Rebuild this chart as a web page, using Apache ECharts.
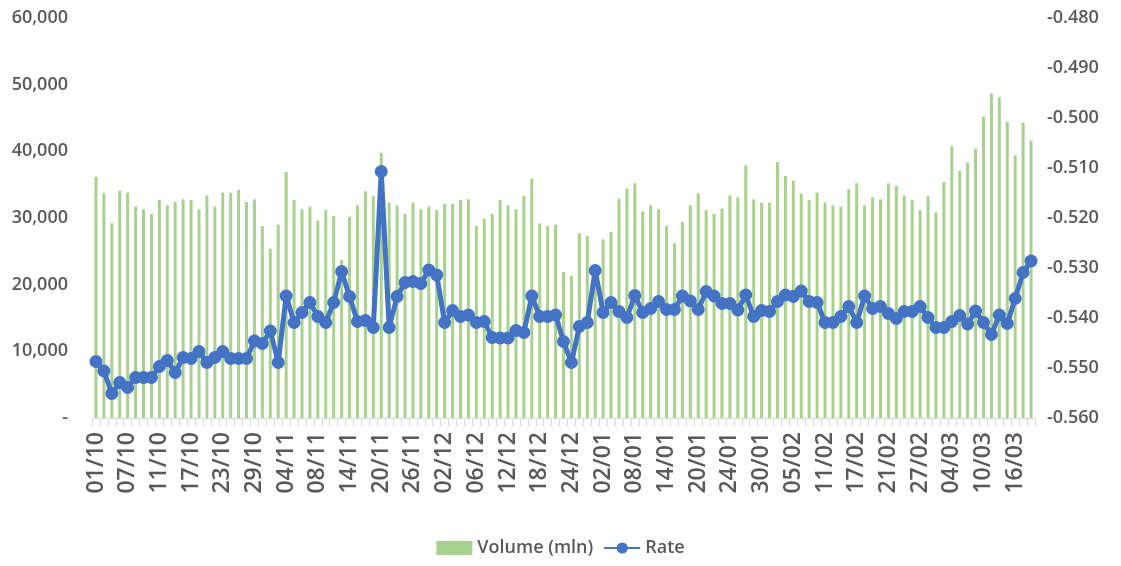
<!DOCTYPE html>
<html>
<head>
<meta charset="utf-8">
<script src="https://cdn.jsdelivr.net/npm/echarts@6/dist/echarts.min.js"></script>
<style>
  html, body { margin: 0; padding: 0; background: #fff; }
  #main { width: 1121px; height: 566px; }
</style>
</head>
<body>
<div id="main"></div>
<script>
// trading days 01/10 - 18/03
var days = [
  '01/10','02/10','03/10','04/10','07/10','08/10','09/10','10/10','11/10','14/10','15/10','16/10','17/10','18/10','21/10','22/10','23/10','24/10','25/10','28/10','29/10','30/10','31/10',
  '01/11','04/11','05/11','06/11','07/11','08/11','11/11','12/11','13/11','14/11','15/11','18/11','19/11','20/11','21/11','22/11','25/11','26/11','27/11','28/11','29/11',
  '02/12','03/12','04/12','05/12','06/12','09/12','10/12','11/12','12/12','13/12','16/12','17/12','18/12','19/12','20/12','23/12','24/12','27/12','30/12','31/12',
  '02/01','03/01','06/01','07/01','08/01','09/01','10/01','13/01','14/01','15/01','16/01','17/01','20/01','21/01','22/01','23/01','24/01','27/01','28/01','29/01','30/01','31/01',
  '03/02','04/02','05/02','06/02','07/02','10/02','11/02','12/02','13/02','14/02','17/02','18/02','19/02','20/02','21/02','24/02','25/02','26/02','27/02','28/02',
  '02/03','03/03','04/03','05/03','06/03','09/03','10/03','11/03','12/03','13/03','16/03','17/03','18/03'
];

// volume, mln
var volume = [
  36200,33700,29200,34100,33800,31700,31300,30600,32700,31900,32400,32800,32700,31300,33400,31700,33800,33800,34200,32400,
  32800,28800,25400,29000,36900,32700,31300,31700,29600,31200,30300,23700,30200,31900,34000,33300,39800,32300,31900,30600,
  32300,31300,31700,31200,32100,32100,32700,32800,28800,29900,30600,32700,31900,31300,33300,35900,29200,28800,29000,21900,
  21300,27700,27300,21500,26800,27900,32900,34400,35200,31000,31900,31300,28800,26200,29400,31900,33700,31200,30600,31400,
  33400,33100,37900,32800,32300,32300,38400,36300,35600,33700,32700,33800,32300,31900,31700,34300,35200,31900,33100,32800,
  35200,34800,33400,32700,31200,33300,30800,35400,40800,37100,38300,40400,45200,48700,48100,44400,39400,44300,41600
];

// rate
var rate = [
  -0.5487,-0.5506,-0.5551,-0.5529,-0.5539,-0.5519,-0.5519,-0.5519,-0.5497,-0.5485,-0.5509,-0.5479,-0.5481,-0.5467,-0.5489,-0.5479,-0.5467,-0.5481,-0.5481,-0.5481,
  -0.5446,-0.5451,-0.5426,-0.5489,-0.5356,-0.5409,-0.5389,-0.5369,-0.5397,-0.5409,-0.5369,-0.5307,-0.5357,-0.5407,-0.5405,-0.5419,-0.5107,-0.5419,-0.5357,-0.5329,
  -0.5327,-0.5331,-0.5304,-0.5314,-0.5409,-0.5385,-0.5397,-0.5394,-0.5409,-0.5407,-0.5439,-0.5440,-0.5440,-0.5425,-0.5429,-0.5356,-0.5397,-0.5397,-0.5394,-0.5447,
  -0.5489,-0.5417,-0.5409,-0.5305,-0.5389,-0.5369,-0.5387,-0.5399,-0.5355,-0.5389,-0.5381,-0.5367,-0.5383,-0.5383,-0.5356,-0.5366,-0.5383,-0.5347,-0.5356,-0.5371,
  -0.5371,-0.5384,-0.5354,-0.5397,-0.5385,-0.5387,-0.5367,-0.5354,-0.5357,-0.5346,-0.5367,-0.5369,-0.5409,-0.5409,-0.5397,-0.5377,-0.5409,-0.5356,-0.5381,-0.5377,
  -0.5391,-0.5401,-0.5387,-0.5387,-0.5377,-0.5399,-0.5419,-0.5419,-0.5407,-0.5395,-0.5412,-0.5386,-0.5409,-0.5433,-0.5394,-0.5411,-0.5361,-0.5309,-0.5286
];

var txt = '#595959';
var font = 'Open Sans';

var myChart = echarts.init(document.getElementById('main'));

option = {
    backgroundColor: '#fff',
    animation: false,
    textStyle: { fontFamily: font },
    grid: {
        left: 92,
        right: 86,
        top: 18,
        bottom: 148
    },
    legend: {
        bottom: 4,
        left: 'center',
        itemGap: 10,
        itemWidth: 36,
        itemHeight: 14,
        textStyle: { color: txt, fontSize: 18, fontWeight: 600, fontFamily: font },
        data: [
            { name: 'Volume (mln)', icon: 'rect' },
            { name: 'Rate' }
        ]
    },
    xAxis: {
        type: 'category',
        data: days,
        boundaryGap: true,
        axisLine: { lineStyle: { color: '#d9d9d9', width: 1 } },
        axisTick: { show: true, interval: 0, length: 8, lineStyle: { color: '#d9d9d9' } },
        axisLabel: {
            interval: 3,
            rotate: 90,
            color: txt,
            fontSize: 23,
            fontWeight: 600,
            margin: 14
        }
    },
    yAxis: [{
        type: 'value',
        min: 0,
        max: 60000,
        interval: 10000,
        splitLine: { show: false },
        axisLine: { show: false },
        axisTick: { show: false },
        axisLabel: {
            color: txt,
            fontSize: 18,
            fontWeight: 600,
            margin: 24,
            formatter: function (v) {
                return v === 0 ? '-' : v.toLocaleString('en-US');
            }
        }
    }, {
        type: 'value',
        min: -0.56,
        max: -0.48,
        interval: 0.01,
        splitLine: { show: false },
        axisLine: { show: false },
        axisTick: { show: false },
        axisLabel: {
            color: txt,
            fontSize: 18,
            fontWeight: 600,
            margin: 12,
            formatter: function (v) {
                return v.toFixed(3);
            }
        }
    }],
    series: [{
        name: 'Volume (mln)',
        type: 'bar',
        data: volume,
        barWidth: 3,
        itemStyle: { color: '#a9d18e' },
        z: 1
    }, {
        name: 'Rate',
        type: 'line',
        yAxisIndex: 1,
        data: rate,
        symbol: 'circle',
        symbolSize: 13,
        showAllSymbol: true,
        lineStyle: { color: '#4472c4', width: 5 },
        itemStyle: { color: '#4472c4' },
        z: 3
    }]
};

myChart.setOption(option);
</script>
</body>
</html>
